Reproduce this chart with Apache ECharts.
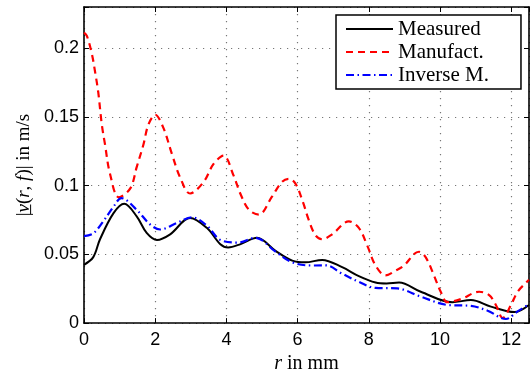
<!DOCTYPE html>
<html>
<head>
<meta charset="utf-8">
<script src="https://cdn.jsdelivr.net/npm/echarts@6/dist/echarts.min.js"></script>
<style>html,body{margin:0;padding:0;background:#fff;}#c{width:530px;height:379px;}</style>
</head>
<body>
<div id="c"></div>
<script>
const xTicks = [0, 2, 4, 6, 8, 10, 12];
const yTicks = [0, 0.05, 0.1, 0.15, 0.2];

const measuredR = [0, 0.26, 0.45, 0.83, 1.13, 1.48, 1.76, 2.05, 2.42, 2.98, 3.45, 3.83, 4.05, 4.4, 4.86, 5.38, 5.85, 6.22, 6.69, 7.25, 7.72, 8.19, 8.5, 8.85, 9.46, 10.35, 10.87, 11.43, 12.09, 12.5];
const measuredV = [0.0424, 0.048, 0.061, 0.080, 0.0868, 0.0777, 0.0657, 0.0605, 0.0646, 0.0765, 0.0693, 0.0574, 0.055, 0.0575, 0.0621, 0.0526, 0.0455, 0.0442, 0.046, 0.0407, 0.0342, 0.0295, 0.0288, 0.0295, 0.0228, 0.0152, 0.0168, 0.012, 0.008, 0.0132];

const manufR = [0, 0.08, 0.22, 0.31, 0.4, 0.5, 0.59, 0.73, 0.98, 1.3, 1.48, 1.67, 1.81, 2.0, 2.23, 2.47, 2.7, 2.98, 3.36, 3.64, 3.92, 4.2, 4.39, 4.63, 4.91, 5.28, 5.56, 5.75, 5.94, 6.15, 6.31, 6.5, 6.69, 6.97, 7.44, 7.72, 7.96, 8.19, 8.47, 8.76, 8.99, 9.27, 9.41, 9.6, 9.83, 10.02, 10.21, 10.59, 11.1, 11.38, 11.57, 11.76, 11.99, 12.18, 12.42, 12.5];
const manufV = [0.2113, 0.209, 0.196, 0.183, 0.168, 0.1445, 0.130, 0.1087, 0.0915, 0.098, 0.1135, 0.130, 0.1445, 0.1516, 0.142, 0.123, 0.106, 0.0943, 0.1027, 0.1158, 0.1218, 0.1075, 0.0943, 0.0825, 0.0789, 0.092, 0.1027, 0.105, 0.1015, 0.088, 0.0753, 0.064, 0.061, 0.0646, 0.074, 0.0693, 0.0562, 0.0419, 0.0347, 0.0383, 0.0419, 0.0502, 0.0519, 0.0478, 0.0347, 0.0228, 0.0152, 0.0175, 0.0228, 0.0204, 0.0132, 0.0037, 0.013, 0.0228, 0.0295, 0.0316];

const inverseR = [0, 0.26, 0.54, 0.83, 1.05, 1.48, 1.86, 2.14, 2.61, 3.03, 3.45, 3.83, 4.34, 4.81, 5.38, 5.85, 6.41, 6.79, 7.25, 7.72, 8.19, 8.8, 9.46, 10.21, 10.87, 11.34, 11.85, 12.18, 12.5];
const inverseV = [0.0633, 0.0653, 0.074, 0.0848, 0.091, 0.0824, 0.0717, 0.0681, 0.0729, 0.077, 0.071, 0.0605, 0.0586, 0.0621, 0.052, 0.0442, 0.0419, 0.042, 0.036, 0.030, 0.0256, 0.0252, 0.0192, 0.0132, 0.0125, 0.009, 0.003, 0.0085, 0.0137];

const pairs = (xs, ys) => xs.map((x, i) => [x, ys[i]]);

const chart = echarts.init(document.getElementById('c'), null, {renderer: 'canvas'});
const sans = 'Liberation Sans, Arial, sans-serif';
const serif = 'Liberation Serif, Times New Roman, serif';
const gridLine = {show: true, lineStyle: {color: '#777', width: 1.2, type: [1.2, 5.8]}};
const axLine = {show: true, onZero: false, lineStyle: {color: '#000', width: 1.6}};
const tick = {show: true, inside: true, length: 5, lineStyle: {color: '#000', width: 1}};

chart.setOption({
  animation: false,
  backgroundColor: '#fff',
  grid: {left: 84, right: 1, top: 7, bottom: 50.5, containLabel: false},
  legend: {
    orient: 'vertical', left: 336, top: 15,
    padding: [3.5, 32, 3.5, 9], itemGap: 2, itemWidth: 47, itemHeight: 14,
    backgroundColor: '#fff', borderColor: '#000', borderWidth: 1.5,
    itemStyle: {opacity: 0, borderWidth: 0},
    textStyle: {fontFamily: serif, fontSize: 21, color: '#000', lineHeight: 21},
    data: ['Measured', 'Manufact.', 'Inverse M.']
  },
  xAxis: [{
    type: 'value', min: 0, max: 12.5, interval: 2,
    axisLine: axLine, axisTick: tick, splitLine: gridLine,
    axisLabel: {show: true, fontFamily: sans, fontSize: 18, color: '#000', margin: 8,
      customValues: xTicks},
    name: '{i|r} in mm', nameLocation: 'middle', nameGap: 27,
    nameTextStyle: {fontFamily: serif, fontSize: 20, color: '#000',
      rich: {i: {fontFamily: serif, fontStyle: 'italic', fontSize: 20, color: '#000'}}}
  }, {
    type: 'value', min: 0, max: 12.5, interval: 2, position: 'top',
    axisLine: axLine, axisTick: tick, splitLine: {show: false}, axisLabel: {show: false}
  }],
  yAxis: [{
    type: 'value', min: 0, max: 0.23, interval: 0.05,
    axisLine: axLine, axisTick: tick, splitLine: gridLine,
    axisLabel: {show: true, fontFamily: sans, fontSize: 18, color: '#000', margin: 5,
      customValues: yTicks},
    name: '|{i|v\u0332}({i|r}, {i|f})| in m/s', nameLocation: 'middle', nameGap: 50, nameRotate: 90,
    nameTextStyle: {fontFamily: serif, fontSize: 19, color: '#000',
      rich: {i: {fontFamily: serif, fontStyle: 'italic', fontSize: 19, color: '#000'}}}
  }, {
    type: 'value', min: 0, max: 0.23, interval: 0.05, position: 'right',
    axisLine: axLine, axisTick: tick, splitLine: {show: false}, axisLabel: {show: false}
  }],
  series: [
    {name: 'Measured', type: 'line', symbol: 'none', smooth: 0.35, data: pairs(measuredR, measuredV),
      color: '#000', lineStyle: {color: '#000', width: 2, type: 'solid'}},
    {name: 'Manufact.', type: 'line', symbol: 'none', smooth: 0.35, data: pairs(manufR, manufV),
      color: '#ff0000', lineStyle: {color: '#ff0000', width: 2.2, type: [7, 5]}},
    {name: 'Inverse M.', type: 'line', symbol: 'none', smooth: 0.35, data: pairs(inverseR, inverseV),
      color: '#0000ff', lineStyle: {color: '#0000ff', width: 2.2, type: [8, 3.5, 1.5, 3.5]}}
  ]
});
</script>
</body>
</html>
